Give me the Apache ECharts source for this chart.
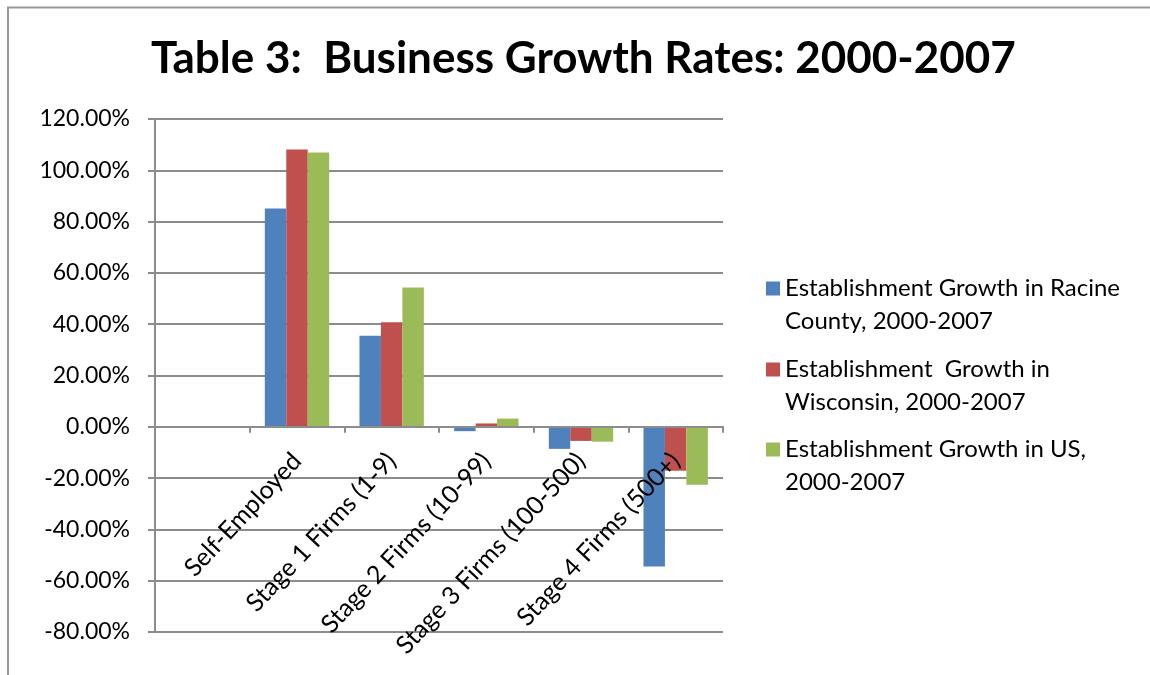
<!DOCTYPE html>
<html>
<head>
<meta charset="utf-8">
<script src="https://cdn.jsdelivr.net/npm/echarts@6/dist/echarts.min.js"></script>
<style>
  html, body { margin: 0; padding: 0; background: #fff; }
  #chart { width: 1150px; height: 675px; }
</style>
</head>
<body>
<div id="chart"></div>
<script>
"use strict";
// categories along the x axis (a blank slot comes first, like the original)
var categories = ['Self-Employed', 'Stage 1 Firms (1-9)', 'Stage 2 Firms (10-99)', 'Stage 3 Firms (100-500)', 'Stage 4 Firms (500+)'];
var seriesNames = [
  'Establishment Growth in Racine\nCounty, 2000-2007',
  'Establishment  Growth in\nWisconsin, 2000-2007',
  'Establishment Growth in US,\n2000-2007'
];
// growth rates in percent
var racine    = [85.1, 35.5, -1.7, -8.6, -54.5];
var wisconsin = [108.1, 40.8, 1.3, -5.5, -17.1];
var us        = [106.9, 54.3, 3.2, -5.8, -22.6];
var colors = ['#4F81BD', '#C0504D', '#9BBB59'];
var yMin = -80, yMax = 120;

var font = 'Lato, "Open Sans", sans-serif';
var gray = '#8c8c8c';

var chart = echarts.init(document.getElementById('chart'));

var gridTop = 119, gridBottom = 43;
var plotH = 675 - gridTop - gridBottom;
// move the category axis up to the zero line
var zeroOffset = -plotH * (0 - yMin) / (yMax - yMin);

function pad(arr) {
  return [null].concat(arr);
}

var allValues = [racine, wisconsin, us];
var series = allValues.map(function (vals, i) {
  return {
    name: seriesNames[i],
    type: 'bar',
    data: pad(vals),
    barGap: '0%',
    barCategoryGap: '32%',
    itemStyle: { color: colors[i] }
  };
});

var legendTops = [239, 320, 400];
var legends = seriesNames.map(function (n, i) {
  return {
    data: [n],
    orient: 'vertical',
    left: 766,
    top: legendTops[i],
    padding: 0,
    itemWidth: 14,
    itemHeight: 14,
    itemGap: 0,
    icon: 'rect',
    selectedMode: false,
    formatter: function (name) { return ' \n' + name; },
    textStyle: {
      fontFamily: font,
      fontSize: 24,
      color: '#000',
      lineHeight: 33
    }
  };
});

var option = {
  animation: false,
  backgroundColor: '#fff',
  title: {
    text: 'Table 3:  Business Growth Rates: 2000-2007',
    left: 146,
    top: 32,
    textStyle: { fontFamily: font, fontSize: 44, fontWeight: 'bold', color: '#000' }
  },
  graphic: [{
    type: 'polyline',
    shape: { points: [[8, 700], [8, 7.5], [1160, 7.5]] },
    style: { stroke: '#999', lineWidth: 2, fill: null }
  }],
  legend: legends,
  grid: { left: 155, right: 427, top: gridTop, bottom: gridBottom, containLabel: false, outerBoundsMode: 'none' },
  xAxis: {
    type: 'category',
    z: 5,
    data: [''].concat(categories),
    offset: zeroOffset,
    axisLine: { onZero: false, lineStyle: { color: gray, width: 2 } },
    axisTick: { show: true, length: 6, lineStyle: { color: gray, width: 2 } },
    axisLabel: {
      interval: 0,
      rotate: 47,
      margin: 30,
      fontFamily: font,
      fontSize: 25,
      color: '#000'
    },
    splitLine: { show: false }
  },
  yAxis: {
    type: 'value',
    min: yMin,
    max: yMax,
    interval: 20,
    axisLine: { show: true, lineStyle: { color: gray, width: 2 } },
    axisTick: { show: true, length: 7, lineStyle: { color: gray, width: 2 } },
    axisLabel: {
      margin: 25,
      fontFamily: font,
      fontSize: 23,
      color: '#000',
      formatter: function (v) { return v.toFixed(2) + '%'; }
    },
    splitLine: { show: true, lineStyle: { color: gray, width: 2 } }
  },
  series: series
};

chart.setOption(option);
</script>
</body>
</html>
